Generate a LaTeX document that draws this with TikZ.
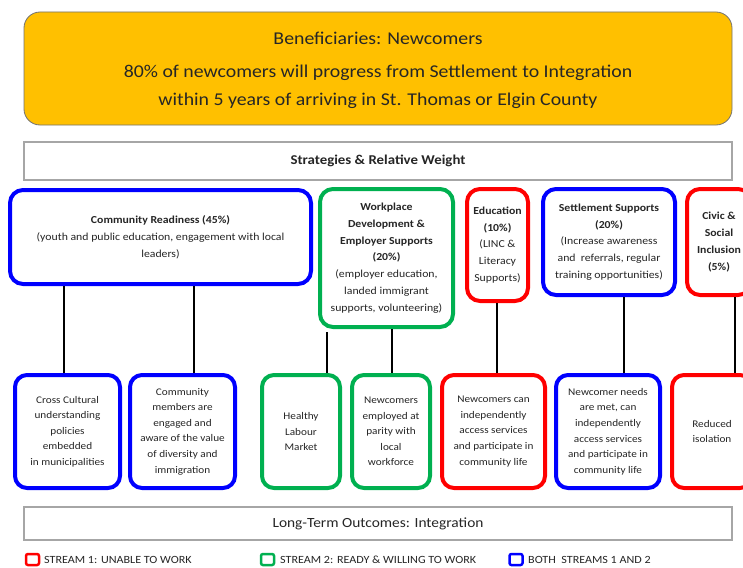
\documentclass[tikz,border=0pt]{standalone}
\usepackage{fontspec}
\setmainfont{Carlito}[FakeStretch=1.1]
\definecolor{cblue}{HTML}{0000FF}
\definecolor{cgreen}{HTML}{00B050}
\definecolor{cred}{HTML}{FF0000}
\definecolor{corange}{HTML}{FFC000}
\definecolor{ctext}{HTML}{262626}
\begin{document}
\begin{tikzpicture}[x=1pt,y=-1pt,
  cbox/.style={draw, line width=4pt, rounded corners=13pt, fill=white, inner sep=0pt,
    align=center, font=\fontsize{10.7}{16.8}\selectfont, text=ctext},
  obox/.style={draw, line width=4pt, rounded corners=12pt, fill=white, inner sep=0pt,
    align=center, font=\fontsize{10.2}{15.6}\selectfont, text=ctext},
  graybox/.style={draw=black!35, line width=1.3pt, fill=white, inner sep=0pt},
  conn/.style={draw=black, line width=1.8pt},
  legsq/.style={draw, line width=2.5pt, rounded corners=2pt, minimum width=13pt, minimum height=11pt, inner sep=0pt},
  legtxt/.style={anchor=west, inner sep=0pt, font=\fontsize{11}{12}\selectfont, text=ctext},
  hdr/.style={font=\fontsize{18}{20}\selectfont, text=ctext}
]
\useasboundingbox (0,0) rectangle (743,567);
\clip (0,0) rectangle (743,567);
\fill[white] (0,0) rectangle (743,567);

% header
\node[draw=black!55, line width=0.8pt, fill=corange, rounded corners=16pt,
      minimum width=708pt, minimum height=113pt, inner sep=0pt] (ben) at (378,68.5) {};
\node[hdr] (t1) at (378,38) {Beneficiaries: Newcomers};
\node[hdr] (t2) at (378,73) {80\% of newcomers will progress from Settlement to Integration};
\node[hdr] (t3) at (378,101) {within 5 years of arriving in St. Thomas or Elgin County};

% strategies bar
\node[graybox, minimum width=708pt, minimum height=38pt, font=\bfseries\fontsize{13.5}{15}\selectfont, text=ctext] (strat) at (378,161) {Strategies \& Relative Weight};

% strategy boxes
\node[cbox, draw=cblue, minimum width=301pt, minimum height=94pt] (cr) at (160.5,237)
  {\textbf{Community Readiness (45\%)}\\(youth and public education, engagement with local\\leaders)};
\node[cbox, draw=cgreen, minimum width=133pt, minimum height=138pt] (wp) at (386.5,258)
  {\textbf{Workplace}\\\textbf{Development \&}\\\textbf{Employer Supports}\\\textbf{(20\%)}\\(employer education,\\landed immigrant\\supports, volunteering)};
\node[cbox, draw=cred, minimum width=61pt, minimum height=112pt] (ed) at (497.5,245)
  {\textbf{Education}\\\textbf{(10\%)}\\(LINC \&\\Literacy\\Supports)};
\node[cbox, draw=cblue, minimum width=132pt, minimum height=106pt] (ss) at (609,242)
  {\textbf{Settlement Supports}\\\textbf{(20\%)}\\(Increase awareness\\and~ referrals, regular\\training opportunities)};
\node[cbox, draw=cred, minimum width=64pt, minimum height=106pt] (cs) at (719,242)
  {\textbf{Civic \&}\\\textbf{Social}\\\textbf{Inclusion}\\\textbf{(5\%)}};

% outcome boxes
\node[obox, draw=cblue, minimum width=105pt, minimum height=113pt] (cc) at (67.5,431.5)
  {Cross Cultural\\understanding\\policies\\embedded\\in municipalities};
\node[obox, draw=cblue, minimum width=105pt, minimum height=113pt] (cm) at (182.5,431.5)
  {Community\\members are\\engaged and\\aware of the value\\of diversity and\\immigration};
\node[obox, draw=cgreen, minimum width=78pt, minimum height=113pt] (hl) at (301,431.5)
  {Healthy\\Labour\\Market};
\node[obox, draw=cgreen, minimum width=78pt, minimum height=113pt] (ne) at (391,431.5)
  {Newcomers\\employed at\\parity with\\local\\workforce};
\node[obox, draw=cred, minimum width=103pt, minimum height=113pt] (nc) at (493.5,431.5)
  {Newcomers can\\independently\\access services\\and participate in\\community life};
\node[obox, draw=cblue, minimum width=104pt, minimum height=113pt] (nn) at (608,431.5)
  {Newcomer needs\\are met, can\\independently\\access services\\and participate in\\community life};
\node[obox, draw=cred, minimum width=80pt, minimum height=113pt] (ri) at (712,431.5)
  {Reduced\\isolation};

% connectors
\coordinate (x1) at (64,0);
\coordinate (x2) at (194,0);
\coordinate (x3) at (327,0);
\coordinate (x4) at (392,0);
\coordinate (x5) at (497,0);
\coordinate (x6) at (624,0);
\coordinate (x7) at (735,0);
\draw[conn] (cr.south -| x1) -- (cc.north -| x1);
\draw[conn] (cr.south -| x2) -- (cm.north -| x2);
\draw[conn] ([yshift=-3pt]wp.south -| x3) -- (hl.north -| x3);
\draw[conn] (wp.south -| x4) -- (ne.north -| x4);
\draw[conn] (ed.south -| x5) -- (nc.north -| x5);
\draw[conn] (ss.south -| x6) -- (nn.north -| x6);
\draw[conn] (cs.south -| x7) -- (ri.north -| x7);

% long-term outcomes bar
\node[graybox, minimum width=708pt, minimum height=33pt, font=\fontsize{14}{16}\selectfont, text=ctext] (lto) at (378,523.5) {Long-Term Outcomes: Integration};

% legend
\node[legsq, draw=cred] (l1) at (32.5,559.5) {};
\node[legtxt] (l1t) at (44,560) {STREAM 1: UNABLE TO WORK};
\node[legsq, draw=cgreen] (l2) at (267.5,559.5) {};
\node[legtxt] (l2t) at (280,560) {STREAM 2: READY \& WILLING TO WORK};
\node[legsq, draw=cblue] (l3) at (516,559.5) {};
\node[legtxt] (l3t) at (528,560) {BOTH~ STREAMS 1 AND 2};
\end{tikzpicture}
\end{document}
